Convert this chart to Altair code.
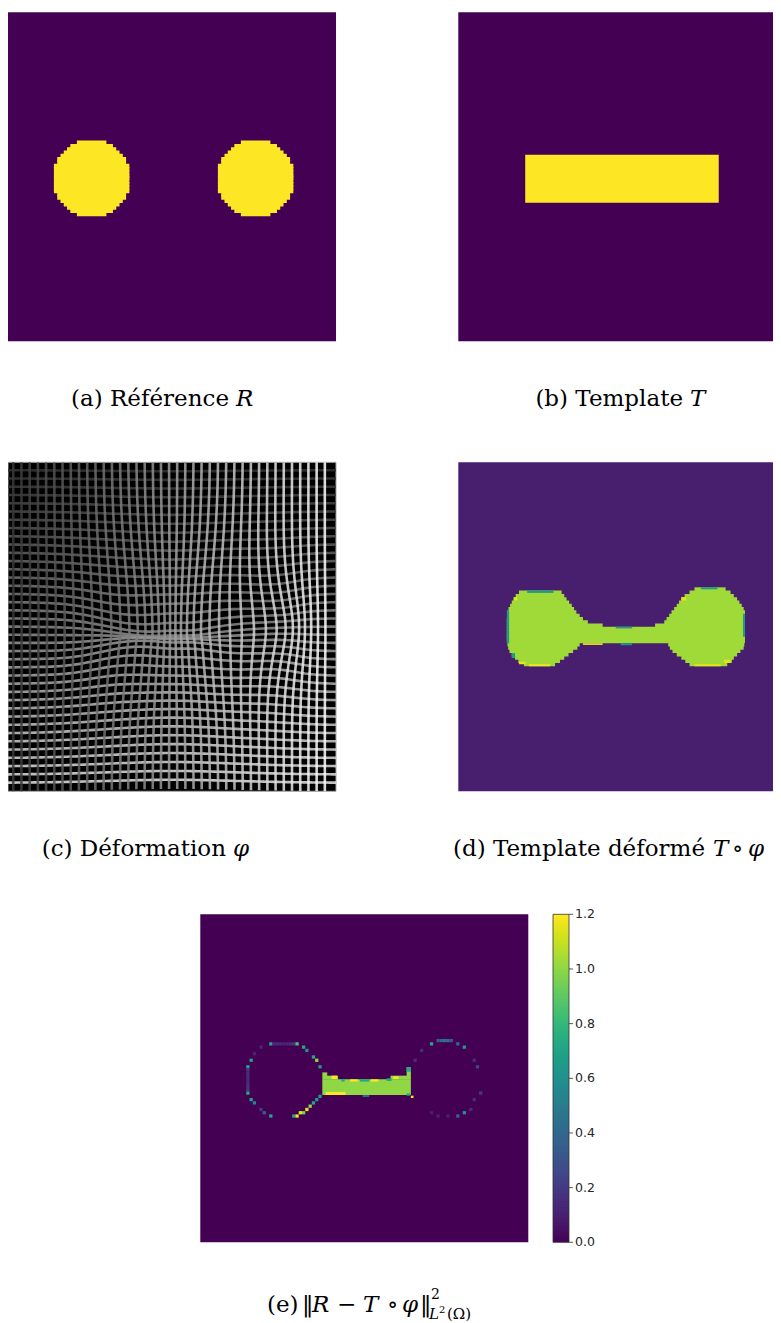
import numpy as np
import pandas as pd
import altair as alt

# ------------------------------------------------------------------ data
# every image is a 100 x 100 pixel grid: column 0 on the left, row 0 on top

# (a) reference R : two pixelated discs (half width of each row)
R_DISC_CENTER_COL = [25.5, 75.5]
R_DISC_TOP_ROW = 39
R_DISC_HALF_WIDTH = [4.5, 6.5, 7.5, 8.5, 9.5, 10.5, 10.5, 11.5, 11.5, 11.5, 11.5, 11.5,
                     11.5, 11.5, 11.5, 11.5, 10.5, 10.5, 9.5, 8.5, 7.5, 6.5, 4.5]

# (b) template T : one bar
T_BAR_COLS = [20.4, 79.4]
T_BAR_ROWS = [43.3, 57.9]

# (c) deformation phi : regular grid pushed by a few local contractions / shifts
PHI_V_START, PHI_H_START, PHI_STEP, PHI_COUNT = 1.6, 2.4, 2.5, 39
PHI_BUMP_CX = [50, 41, 59, 50, 31, 80]
PHI_BUMP_CY = [48, 53, 53, 55, 52, 50]
PHI_BUMP_SX = [14, 8, 8, 20, 7, 7]
PHI_BUMP_SY = [18, 6, 6, 20, 9, 12]
PHI_BUMP_AX = [0.35, 0.0, 0.0, 0.0, 0.0, 0.0]
PHI_BUMP_AY = [0.0, 0.6, 0.6, 0.2, 0.3, 0.2]
PHI_BUMP_TX = [0.0, 0.0, 0.0, 0.0, 0.0, 4.0]
PHI_V_GRAY = [0.22, 1.0]   # vertical lines, left -> right
PHI_H_GRAY = [0.20, 0.90]  # horizontal lines, top -> bottom

# (d) deformed template T o phi : row segments of the dumbbell
D_SEG_ROW = [38,
             39, 39, 40, 40, 41, 41, 42, 42, 43, 43, 44, 44, 45, 45, 46, 46, 47, 47, 48, 48, 49, 49,
             50, 51, 52, 53, 54,
             55, 55, 56, 56, 57, 57, 58, 58, 59, 59, 60, 60, 61, 61]
D_SEG_X0 = [72.0,
            18.5, 70.5, 17.5, 69.0, 16.8, 68.0, 16.3, 67.3, 15.8, 66.6, 15.3, 65.8, 15.0, 65.0,
            14.9, 64.3, 14.8, 63.5, 14.8, 62.8, 14.8, 60.0,
            14.8, 14.8, 14.8, 14.8, 14.8,
            15.0, 64.0, 15.2, 64.5, 15.6, 65.3, 16.3, 66.6, 17.3, 68.0, 18.3, 69.2, 20.0, 70.5]
D_SEG_X1 = [81.5,
            31.5, 83.0, 32.3, 84.0, 33.0, 85.0, 33.8, 85.7, 34.6, 86.4, 35.3, 87.0, 36.0, 87.4,
            37.0, 87.4, 38.0, 87.4, 39.5, 87.4, 44.0, 87.4,
            87.4, 87.4, 87.4, 87.4, 87.4,
            37.0, 87.2, 36.3, 87.0, 35.0, 86.0, 33.6, 85.0, 32.3, 84.0, 31.0, 83.4, 29.5, 82.0]
D_MIDDLE_ROW = 52
D_SHAPE_VALUE = 1.0
D_EDGE_Y0 = [39.0, 45.0, 61.4, 60.6, 41.0, 50.0, 55.0, 55.0, 38.0, 46.0, 61.4, 41.0, 60.0, 58.0]
D_EDGE_Y1 = [39.7, 55.0, 62.0, 61.4, 42.0, 50.5, 55.5, 55.6, 38.6, 53.0, 62.0, 42.0, 61.0, 59.5]
D_EDGE_X0 = [21.0, 14.8, 21.5, 18.5, 17.0, 48.0, 38.0, 49.5, 74.0, 86.8, 72.0, 68.0, 81.0, 16.3]
D_EDGE_X1 = [29.0, 15.5, 28.0, 20.5, 18.0, 53.0, 44.0, 53.0, 79.0, 87.4, 80.0, 69.5, 83.0, 17.3]
D_EDGE_V = [0.6, 0.6, 1.16, 1.14, 1.14, 0.6, 1.16, 0.55, 0.6, 0.6, 1.14, 1.14, 1.12, 0.6]
D_COLOR_DOMAIN = [-0.1, 1.18]

# (e) squared error |R - T o phi|^2
E_BAR_Y0 = [50.3, 48.2, 49.2, 46.6, 49.2]
E_BAR_Y1 = [55.1, 50.4, 50.4, 50.4, 50.4]
E_BAR_X0 = [37.2, 37.2, 38.6, 62.9, 58.0]
E_BAR_X1 = [64.2, 38.7, 42.0, 64.2, 63.0]
E_BAR_V = [1.0, 1.0, 1.0, 1.0, 1.0]
E_MARK_Y0 = [49.2, 50.2, 50.3, 50.3, 50.3, 50.0, 49.4, 46.6, 54.2, 55.1, 54.6, 55.3]
E_MARK_Y1 = [50.2, 51.0, 51.0, 51.0, 51.0, 50.8, 50.2, 48.0, 55.1, 55.7, 55.3, 56.0]
E_MARK_X0 = [40.0, 43.0, 45.7, 48.7, 52.0, 56.8, 58.8, 62.9, 38.2, 49.5, 62.9, 64.2]
E_MARK_X1 = [41.7, 44.0, 48.0, 51.5, 54.3, 58.3, 60.4, 64.2, 44.3, 51.5, 64.0, 65.0]
E_MARK_V = [1.2, 0.72, 1.2, 0.72, 1.2, 0.72, 1.2, 0.72, 1.2, 0.4, 0.72, 1.2]
E_DOT_COL = [21, 22, 23, 24, 25, 26, 27, 28, 29, 18, 31, 32, 34, 35, 36,
             16, 15, 14, 14, 14, 14, 14, 14, 14, 14, 14, 15, 16, 18, 19, 21,
             28, 29, 30, 31, 32, 33, 34, 35, 36,
             70, 72, 73, 74, 75, 76, 78, 80, 67, 65, 83, 84, 85, 83, 82, 80, 78, 70, 72, 75]
E_DOT_ROW = [39, 39, 39, 39, 39, 39, 39, 39, 39, 40, 40, 41, 43, 44, 46,
             42, 44, 46, 47, 48, 49, 50, 51, 52, 53, 54, 56, 57, 59, 60, 61,
             61, 61, 60, 60, 59, 58, 57, 56, 55,
             39, 38, 38, 38, 38, 38, 39, 40, 41, 44, 44, 46, 54, 56, 59, 60, 61, 60, 61, 61]
E_DOT_V = [0.72, 0.15, 0.15, 0.12, 0.12, 0.12, 0.15, 0.2, 0.85, 0.12, 0.72, 0.6, 0.72, 1.0, 0.65,
           0.12, 0.7, 0.72, 0.18, 0.15, 0.15, 0.15, 0.15, 0.18, 0.2, 0.72, 0.7, 0.55, 0.2, 0.35, 0.72,
           0.72, 1.18, 1.15, 0.95, 1.15, 1.0, 0.72, 0.65, 0.65,
           0.72, 0.35, 0.4, 0.45, 0.45, 0.35, 0.4, 0.65, 0.15, 0.15, 0.15, 0.25, 0.2, 0.15, 0.15,
           0.6, 0.4, 0.1, 0.1, 0.1]
E_COLOR_DOMAIN = [0.0, 1.2]
CBAR_TICKS = [0.0, 0.2, 0.4, 0.6, 0.8, 1.0, 1.2]
CBAR_STEPS = 120

# captions: (text, x, baseline) in chart pixels
CAP_UP_RIGHT = [("(a) Référence", 221, 397.7), ("(b) Template", 675, 397.7),
                ("(c) Déformation", 218, 847.7), ("(d) Template déformé", 697, 847.7)]
CAP_IT_LEFT = [("R", 228, 397.7), ("T", 682, 397.7), ("φ", 225, 847.7),
               ("T", 705, 847.7), ("φ", 740, 847.7),
               ("R", 304, 1303.5), ("T", 355, 1303.5), ("φ", 394, 1303.5)]
CAP_UP_LEFT = [("∘", 724, 847.7), ("(e)", 259, 1303.5), ("‖", 294, 1303.5),
               ("−", 329, 1303.5), ("∘", 379, 1303.5), ("‖", 412, 1303.5)]
CAP_SUP = [("2", 423, 1291.0)]
CAP_SUB_UP = [("(Ω)", 439, 1311.0)]
CAP_SUB_IT = [("L", 421, 1311.0)]
CAP_TINY = [("2", 431, 1305.0)]

# panel placement (chart pixels; the page adds an 8 px margin)
PANEL_A = ([0, 328], [4.3, 333.3])
PANEL_B = ([450.3, 778.3], [4.3, 333.3])
PANEL_C = ([0, 328], [454.3, 783.3])
PANEL_D = ([450.3, 778.3], [454.3, 783.3])
PANEL_E = ([192.3, 520.3], [906.3, 1234.3])
CBAR_X = [545, 561]
ROW_OVERLAP = 0.4

# ------------------------------------------------------------------ helpers
def scales(panel, xd=(0, 100), yd=(0, 100)):
    xr, yr = panel
    return (alt.Scale(domain=list(xd), range=list(xr), nice=False, zero=False),
            alt.Scale(domain=list(yd), range=list(yr), nice=False, zero=False))


def rect_layer(df, panel, cdomain):
    sx, sy = scales(panel)
    return alt.Chart(df).mark_rect(clip=True).encode(
        x=alt.X("x0:Q", scale=sx, axis=None), x2="x1:Q",
        y=alt.Y("y0:Q", scale=sy, axis=None), y2="y1:Q",
        color=alt.Color("v:Q", scale=alt.Scale(scheme="viridis", domain=cdomain, clamp=True),
                        legend=None),
    )


def full(v):
    return pd.DataFrame({"x0": [0], "x1": [100], "y0": [0], "y1": [100], "v": [v]})


def row_rect(row, x0, x1, v, toward_down):
    # rows overlap toward the wider neighbour so that no seam shows
    if toward_down:
        return {"x0": x0, "x1": x1, "y0": row, "y1": row + 1 + ROW_OVERLAP, "v": v}
    return {"x0": x0, "x1": x1, "y0": row - ROW_OVERLAP, "y1": row + 1, "v": v}


def text_layer(rows, size, italic=False, align="left"):
    df = pd.DataFrame(rows, columns=["text", "x", "y"])
    return alt.Chart(df).mark_text(
        font="DejaVu Serif", fontSize=size, fontStyle="italic" if italic else "normal",
        align=align, baseline="alphabetic", color="black",
    ).encode(x=alt.X("x:Q", scale=None), y=alt.Y("y:Q", scale=None), text="text:N")


layers = []

# (a)
rows = []
n = len(R_DISC_HALF_WIDTH)
for i, hw in enumerate(R_DISC_HALF_WIDTH):
    for c in R_DISC_CENTER_COL:
        rows.append(row_rect(R_DISC_TOP_ROW + i, c - hw, c + hw, 1.0, i < n // 2))
layers += [rect_layer(full(0.0), PANEL_A, [0, 1]), rect_layer(pd.DataFrame(rows), PANEL_A, [0, 1])]

# (b)
bar = pd.DataFrame({"x0": [T_BAR_COLS[0]], "x1": [T_BAR_COLS[1]],
                    "y0": [T_BAR_ROWS[0]], "y1": [T_BAR_ROWS[1]], "v": [1.0]})
layers += [rect_layer(full(0.0), PANEL_B, [0, 1]), rect_layer(bar, PANEL_B, [0, 1])]

# (c)
sx, sy = scales(PANEL_C)
layers.append(alt.Chart(full(0.0)).mark_rect(color="black", stroke="#a8a8a8", strokeWidth=1).encode(
    x=alt.X("x0:Q", scale=sx, axis=None), x2="x1:Q",
    y=alt.Y("y0:Q", scale=sy, axis=None), y2="y1:Q"))

t = np.linspace(0, 100, 101)


def warp(u, v):
    du = np.zeros_like(u)
    dv = np.zeros_like(v)
    for cx, cy, sxx, syy, ax, ay, tx in zip(PHI_BUMP_CX, PHI_BUMP_CY, PHI_BUMP_SX, PHI_BUMP_SY,
                                             PHI_BUMP_AX, PHI_BUMP_AY, PHI_BUMP_TX):
        g = np.exp(-((u - cx) ** 2 / (2 * sxx ** 2) + (v - cy) ** 2 / (2 * syy ** 2)))
        du += -ax * (u - cx) * g + tx * g
        dv -= ay * (v - cy) * g
    return np.clip(u + du, 0, 100), np.clip(v + dv, 0, 100)


def gray_hex(lo, hi, k):
    g = int(round(255 * (lo + (hi - lo) * k / (PHI_COUNT - 1))))
    return "#%02x%02x%02x" % (g, g, g)


hl, vl = [], []
for k in range(PHI_COUNT):
    v0 = PHI_H_START + PHI_STEP * k
    px, py = warp(t, np.full_like(t, v0))
    hl.append(pd.DataFrame({"line": k, "t": t, "px": px.round(2), "py": py.round(2),
                            "gray": gray_hex(*PHI_H_GRAY, k)}))
    u0 = PHI_V_START + PHI_STEP * k
    px, py = warp(np.full_like(t, u0), t)
    vl.append(pd.DataFrame({"line": k, "t": t, "px": px.round(2), "py": py.round(2),
                            "gray": gray_hex(*PHI_V_GRAY, k)}))

for df in (pd.concat(hl), pd.concat(vl)):
    sx, sy = scales(PANEL_C)
    layers.append(alt.Chart(df).mark_line(strokeWidth=2.6, opacity=0.85).encode(
        x=alt.X("px:Q", scale=sx, axis=None), y=alt.Y("py:Q", scale=sy, axis=None),
        detail="line:N", order="t:Q", color=alt.Color("gray:N", scale=None)))

# (d)
dseg = pd.DataFrame([row_rect(r, a, b, D_SHAPE_VALUE, r <= D_MIDDLE_ROW)
                     for r, a, b in zip(D_SEG_ROW, D_SEG_X0, D_SEG_X1)])
dedge = pd.DataFrame({"x0": D_EDGE_X0, "x1": D_EDGE_X1, "y0": D_EDGE_Y0, "y1": D_EDGE_Y1,
                      "v": D_EDGE_V})
layers += [rect_layer(full(0.0), PANEL_D, D_COLOR_DOMAIN),
           rect_layer(dseg, PANEL_D, D_COLOR_DOMAIN),
           rect_layer(dedge, PANEL_D, D_COLOR_DOMAIN)]

# (e)
ebar = pd.DataFrame({"x0": E_BAR_X0, "x1": E_BAR_X1, "y0": E_BAR_Y0, "y1": E_BAR_Y1, "v": E_BAR_V})
emark = pd.DataFrame({"x0": E_MARK_X0, "x1": E_MARK_X1, "y0": E_MARK_Y0, "y1": E_MARK_Y1,
                      "v": E_MARK_V})
edot = pd.DataFrame({"x0": E_DOT_COL, "x1": [c + 1 for c in E_DOT_COL],
                     "y0": E_DOT_ROW, "y1": [r + 1 for r in E_DOT_ROW], "v": E_DOT_V})
layers += [rect_layer(full(0.0), PANEL_E, E_COLOR_DOMAIN),
           rect_layer(ebar, PANEL_E, E_COLOR_DOMAIN),
           rect_layer(emark, PANEL_E, E_COLOR_DOMAIN),
           rect_layer(edot, PANEL_E, E_COLOR_DOMAIN)]

# colorbar
cb_y = alt.Scale(domain=E_COLOR_DOMAIN, range=[PANEL_E[1][1], PANEL_E[1][0]], nice=False, zero=False)
step = (E_COLOR_DOMAIN[1] - E_COLOR_DOMAIN[0]) / CBAR_STEPS
cb = pd.DataFrame({"a": [i * step for i in range(CBAR_STEPS)],
                   "b": [min((i + 1.7) * step, E_COLOR_DOMAIN[1]) for i in range(CBAR_STEPS)],
                   "m": [(i + 0.5) * step for i in range(CBAR_STEPS)]})
layers.append(alt.Chart(cb).mark_rect().encode(
    x=alt.value(CBAR_X[0]), x2=alt.value(CBAR_X[1]),
    y=alt.Y("a:Q", scale=cb_y, axis=None), y2="b:Q",
    color=alt.Color("m:Q", scale=alt.Scale(scheme="viridis", domain=E_COLOR_DOMAIN), legend=None)))
layers.append(alt.Chart(pd.DataFrame({"a": [E_COLOR_DOMAIN[0]], "b": [E_COLOR_DOMAIN[1]]}))
              .mark_rect(fillOpacity=0, stroke="#333333", strokeWidth=0.8).encode(
    x=alt.value(CBAR_X[0]), x2=alt.value(CBAR_X[1]),
    y=alt.Y("a:Q", scale=cb_y, axis=None), y2="b:Q"))
ticks = pd.DataFrame({"t": CBAR_TICKS})
layers.append(alt.Chart(ticks).mark_rule(color="#333333", strokeWidth=0.8).encode(
    x=alt.value(CBAR_X[1]), x2=alt.value(CBAR_X[1] + 4),
    y=alt.Y("t:Q", scale=cb_y, axis=None)))
layers.append(alt.Chart(ticks).mark_text(align="left", baseline="middle", font="DejaVu Sans",
                                          fontSize=12.5, color="#262626").encode(
    x=alt.value(CBAR_X[1] + 6), y=alt.Y("t:Q", scale=cb_y, axis=None),
    text=alt.Text("t:Q", format=".1f")))

# captions
layers += [text_layer(CAP_UP_RIGHT, 23, align="right"),
           text_layer(CAP_IT_LEFT, 23, italic=True),
           text_layer(CAP_UP_LEFT, 23),
           text_layer(CAP_SUP, 14),
           text_layer(CAP_SUB_UP, 15),
           text_layer(CAP_SUB_IT, 15, italic=True),
           text_layer(CAP_TINY, 10)]

# the page body is 765 px wide: a wider svg would be shrunk, so stop at 765
chart = alt.layer(*layers).resolve_scale(
    x="independent", y="independent", color="independent"
).properties(
    width=765, height=1315, autosize=alt.AutoSizeParams(type="none"),
    padding={"left": 0, "top": 0, "right": 0, "bottom": 0},
).configure_view(stroke=None)

chart.save("out.html", embed_options={"renderer": "svg", "actions": False})
